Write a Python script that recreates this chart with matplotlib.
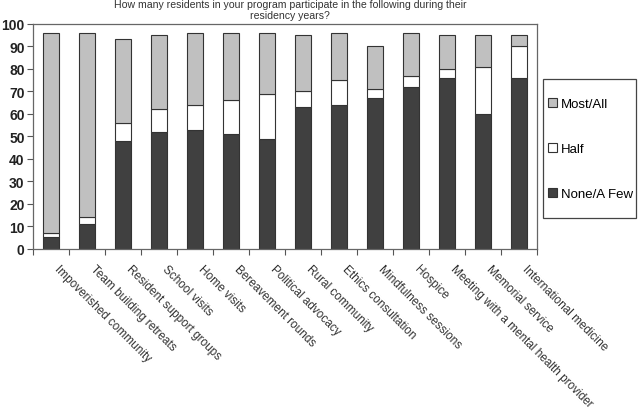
import matplotlib
matplotlib.use("Agg")
import matplotlib.pyplot as plt
from matplotlib.patches import Patch, Rectangle
import matplotlib.transforms as mtransforms
import numpy as np

plt.rcParams["font.family"] = ["Liberation Sans", "DejaVu Sans"]

categories = [
    "Impoverished community", "Team building retreats", "Resident support groups",
    "School visits", "Home visits", "Bereavement rounds", "Political advocacy",
    "Rural community", "Ethics consultation", "Mindfulness sessions", "Hospice",
    "Meeting with a mental health provider", "Memorial service", "International medicine",
]
# cumulative tops
none_few = [5.5, 11, 48, 52, 53, 51, 49, 63, 64, 67, 72, 76, 60, 76]
half_top = [7, 14, 56, 62, 64, 66, 69, 70, 75, 71, 77, 80, 81, 90]
total_top = [96, 96, 93, 95, 96, 96, 96, 95, 96, 90, 96, 95, 95, 95]

_DARK, _LIGHT, _WHITE, _EDGE = "#404040", "#c0c0c0", "#ffffff", "#333333"

none_few = np.array(none_few)
half = np.array(half_top) - none_few
most = np.array(total_top) - np.array(half_top)

fig = plt.figure(figsize=(6.38, 4.10), dpi=100)
ax = fig.add_axes([33 / 638, 1 - 250 / 410, 504 / 638, 225.3 / 410])

x = np.arange(len(categories))
w = 0.42
ax.bar(x, none_few, w, color=_DARK, edgecolor=_EDGE, linewidth=0.8)
ax.bar(x, half, w, bottom=none_few, color=_WHITE, edgecolor=_EDGE, linewidth=0.8)
ax.bar(x, most, w, bottom=none_few + half, color=_LIGHT, edgecolor=_EDGE, linewidth=0.8)

ax.set_xlim(-0.5, len(categories) - 0.5)
ax.set_ylim(0, 100)
ax.set_yticks(range(0, 101, 10))
ax.set_yticklabels([str(v) for v in range(0, 101, 10)], fontsize=10, fontweight="bold", color="#222222")
ax.tick_params(axis="y", length=4, width=0.8, color="#555555", pad=2)

ax.set_xticks(x)
ax.set_xticklabels(categories, rotation=-45, rotation_mode="anchor", ha="left", va="center",
                   fontsize=8.5, color="#333333")
ax.tick_params(axis="x", which="major", length=0, pad=13)
shift = mtransforms.ScaledTranslation(5 / 100, 0, fig.dpi_scale_trans)
for lbl in ax.get_xticklabels():
    lbl.set_transform(lbl.get_transform() + shift)
ax.set_xticks(np.arange(-0.5, len(categories), 1), minor=True)
ax.tick_params(axis="x", which="minor", length=4, width=0.8, color="#555555")

for spine in ax.spines.values():
    spine.set_color("#666666")
    spine.set_linewidth(0.9)

fig.text(290 / 638, 1 - 0.5 / 410,
         "How many residents in your program participate in the following during their\nresidency years?",
         ha="center", va="top", fontsize=7.6, color="#333333", linespacing=1.05)

# legend box drawn separately so the entries can sit tight inside it
fig.patches.append(Rectangle((543 / 638, 1 - 219 / 410), 93 / 638, 139 / 410,
                             transform=fig.transFigure, facecolor="white",
                             edgecolor="#444444", linewidth=0.9))
handles = [
    Patch(facecolor=_LIGHT, edgecolor=_EDGE, linewidth=0.8, label="Most/All"),
    Patch(facecolor=_WHITE, edgecolor=_EDGE, linewidth=0.8, label="Half"),
    Patch(facecolor=_DARK, edgecolor=_EDGE, linewidth=0.8, label="None/A Few"),
]
leg = fig.legend(handles=handles, loc="center left", bbox_to_anchor=(548 / 638, 1 - 150 / 410),
                 borderaxespad=0, borderpad=0, fontsize=9.5, frameon=False,
                 handlelength=0.65, handleheight=0.65, handletextpad=0.3, labelspacing=2.5)

fig.savefig("out.png", dpi=100, facecolor="white")
